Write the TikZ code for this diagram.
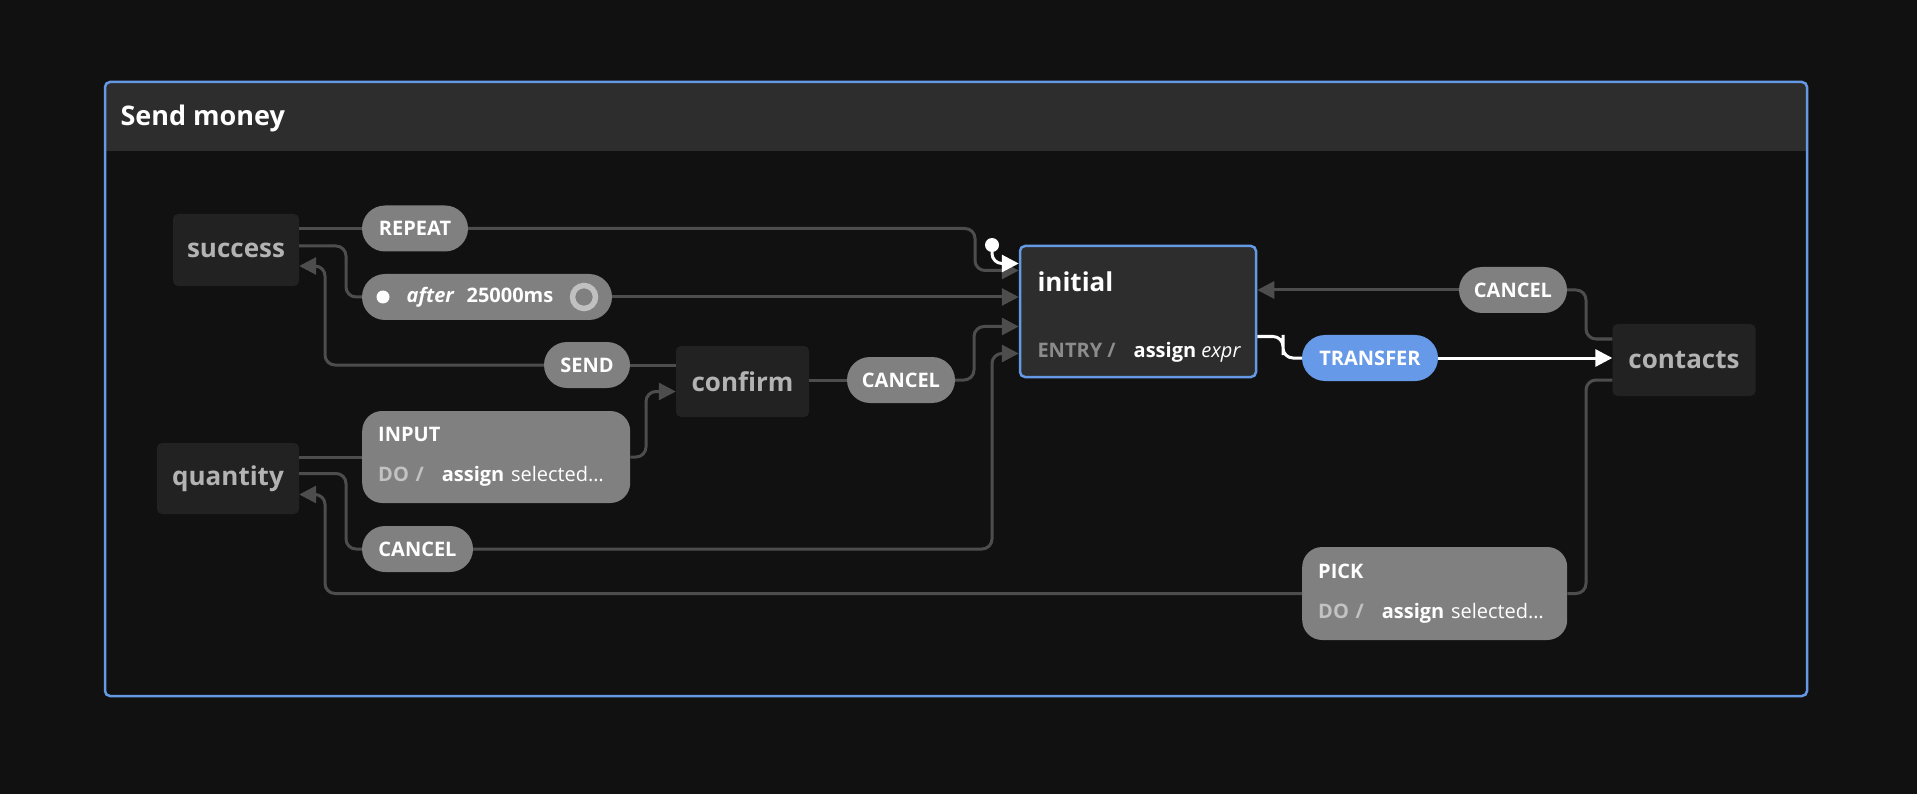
\documentclass[tikz,border=0pt]{standalone}
\usepackage{fontspec}
\setmainfont{Open Sans}
\usetikzlibrary{arrows.meta}
\definecolor{bg}{HTML}{111111}
\definecolor{frameblue}{HTML}{6599E4}
\definecolor{headgrey}{HTML}{2D2D2D}
\definecolor{stfill}{HTML}{222222}
\definecolor{sttext}{HTML}{B3B3B3}
\definecolor{evfill}{HTML}{808080}
\definecolor{lngrey}{HTML}{4D4D4D}
\definecolor{dogrey}{HTML}{C2C2C2}
\definecolor{entrygrey}{HTML}{8C8C8C}
\definecolor{ringgrey}{HTML}{C0C0C0}
\definecolor{transblue}{HTML}{6699E8}

\begin{document}
\begin{tikzpicture}[x=1pt, y=-1pt,
        st/.style={fill=stfill, rounded corners=5pt, text=sttext, inner sep=0pt,
            font=\fontsize{26}{30}\selectfont\bfseries},
        ev/.style={fill=evfill, rounded corners=23pt, minimum height=46pt, text=white,
            inner sep=0pt, font=\fontsize{20}{24}\selectfont\bfseries},
        act/.style={fill=evfill, rounded corners=20pt, text=white, anchor=west, align=left,
            inner xsep=16pt, inner ysep=0pt, font=\fontsize{20}{24}\selectfont},
        ln/.style={draw=lngrey, line width=3pt, rounded corners=10pt},
        wln/.style={draw=white, line width=3pt, rounded corners=10pt},
        arr/.style={-{Triangle[length=17pt,width=17pt]}}]
    \fill[bg] (0,0) rectangle (1917,794);
    \useasboundingbox (0,0) rectangle (1917,794);

    % machine frame
    \fill[headgrey, rounded corners=5pt] (105,82) -- (1807,82) -- (1807,151) [sharp corners] -- (1807,151) -- (105,151) [rounded corners=5pt] -- cycle;
    \draw[frameblue, line width=2.5pt, rounded corners=5pt] (105,82) rectangle (1807,696);
    \node[anchor=base west, text=white, font=\fontsize{27}{32}\selectfont\bfseries] (title) at (117,126) {Send money};

    % states
    \node[st, minimum width=126pt, minimum height=72pt] (success) at (236,250) {success};
    \node[st, minimum width=142pt, minimum height=71pt] (quantity) at (228,478.5) {quantity};
    \node[st, minimum width=133pt, minimum height=71pt] (confirm) at (742.5,381.5) {confirm};
    \node[st, minimum width=143pt, minimum height=72pt] (contacts) at (1684,360) {contacts};
    \node[st, fill=headgrey, draw=frameblue, line width=2.5pt, minimum width=236pt, minimum height=131pt] (initial) at (1138,311.5) {};
    \node[anchor=base west, text=white, font=\fontsize{26}{30}\selectfont\bfseries] (inittitle) at (1034,292) {initial};
    \node[anchor=base west, text=white, font=\fontsize{20}{24}\selectfont] (initentry) at (1034,357)
        {{\color{entrygrey}\bfseries ENTRY /}\hspace{18pt}\textbf{assign} \textit{expr}};
    \node[circle, fill=white, inner sep=0pt, minimum size=14pt] (initdot) at (992,245) {};

    % events
    \node[ev, minimum width=106pt] (repeat) at (415,228.5) {REPEAT};
    \node[ev, minimum width=250pt] (after) at (487,297) {};
    \node[circle, fill=white, inner sep=0pt, minimum size=13pt] (afterdot) at (383,297) {};
    \node[text=white, inner sep=0pt, font=\fontsize{20}{24}\selectfont\bfseries] (aftertxt) at (480,297)
        {\textit{after}\hspace{12pt}25000ms};
    \node[circle, draw=ringgrey, line width=5.5pt, inner sep=0pt, minimum size=23pt] (afterring) at (584,297) {};
    \node[ev, minimum width=86pt] (send) at (587,365) {SEND};
    \node[ev, minimum width=108pt] (cancelc) at (901,380) {CANCEL};
    \node[ev, minimum width=111pt] (cancelq) at (417.5,549) {CANCEL};
    \node[ev, minimum width=108pt] (cancelk) at (1513,290) {CANCEL};
    \node[ev, fill=transblue, minimum width=136pt] (transfer) at (1370,358) {TRANSFER};
    \node[act, minimum width=268pt, minimum height=92pt, text width=236pt] (input) at (362,457)
        {\textbf{INPUT}\\[16pt]{\color{dogrey}\bfseries DO /}\hspace{18pt}\textbf{assign} selected…};
    \node[act, minimum width=265pt, minimum height=93pt, text width=233pt] (pick) at (1302,593.5)
        {\textbf{PICK}\\[16pt]{\color{dogrey}\bfseries DO /}\hspace{18pt}\textbf{assign} selected…};

    % transitions
    \draw[ln] (success.east |- repeat.west) -- (repeat.west);
    \draw[ln, arr] (repeat.east) -| (975,250) |- ([yshift=41pt]initial.west);
    \draw[ln] ([yshift=4pt]success.east) -| (346,270) |- (after.west);
    \draw[ln, arr] (after.east) -- (initial.west |- after.east);
    \draw[ln] (send.east -| confirm.west) -- (send.east);
    \draw[ln, arr] (send.west) -| (325,300) |- ([yshift=-16pt]success.east);
    \draw[ln] (quantity.east |- input.west) -- (input.west);
    \draw[ln, arr] (input.east) -| (646,420) |- ([yshift=-10pt]confirm.west);
    \draw[ln] ([yshift=5pt]quantity.east) -| (346,520) |- (cancelq.west);
    \draw[ln, arr] (cancelq.east) -| (992,450) |- ([yshift=-42pt]initial.west);
    \draw[ln] (confirm.east |- cancelc.west) -- (cancelc.west);
    \draw[ln, arr] (cancelc.east) -| (974,350) |- ([yshift=-15pt]initial.west);
    \draw[ln] ([yshift=21pt]contacts.west) -| (1586,310) |- (cancelk.east);
    \draw[ln, arr] (cancelk.west) -- (initial.east |- cancelk.west);
    \draw[ln] ([yshift=-20pt]contacts.west) -| (1586,500) |- (pick.east);
    \draw[ln, arr] (pick.west) -| (325,550) |- ([yshift=-16pt]quantity.east);
    \draw[wln, arr] (initdot.center) |- ([yshift=48pt]initial.west);
    \draw[wln] ([yshift=-25pt]initial.east) -| (1283,345) |- (transfer.west);
    \draw[wln, arr] (transfer.east) -- (contacts.west |- transfer.east);
\end{tikzpicture}
\end{document}
